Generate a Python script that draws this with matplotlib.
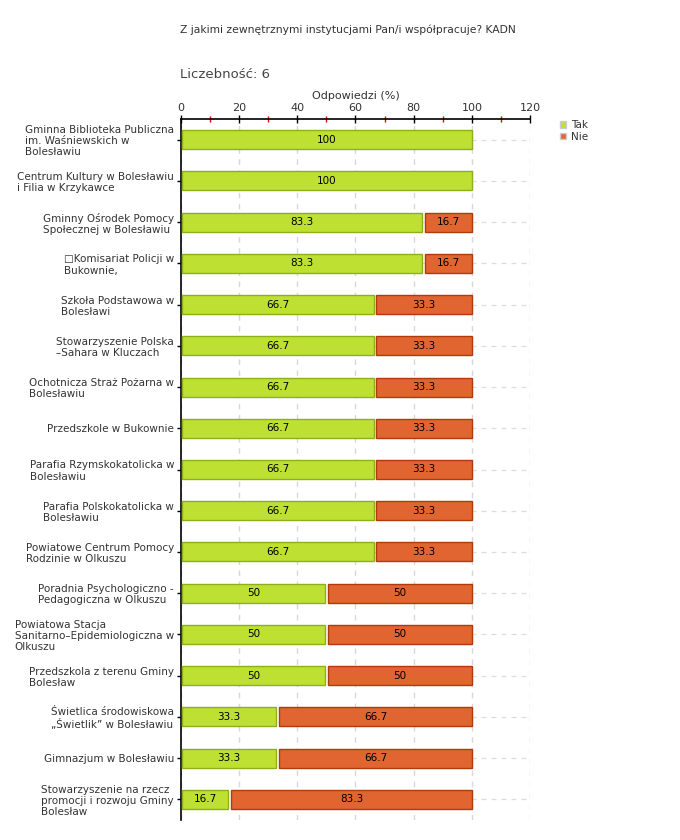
import matplotlib
matplotlib.use("Agg")
import matplotlib.pyplot as plt
from matplotlib.ticker import MultipleLocator
from matplotlib.patches import Patch

categories = [
    "Gminna Biblioteka Publiczna\nim. Waśniewskich w\nBolesławiu",
    "Centrum Kultury w Bolesławiu\ni Filia w Krzykawce",
    "Gminny Ośrodek Pomocy\nSpołecznej w Bolesławiu",
    "□Komisariat Policji w\nBukownie,",
    "Szkoła Podstawowa w\nBolesławi",
    "Stowarzyszenie Polska\n–Sahara w Kluczach",
    "Ochotnicza Straż Pożarna w\nBolesławiu",
    "Przedszkole w Bukownie",
    "Parafia Rzymskokatolicka w\nBolesławiu",
    "Parafia Polskokatolicka w\nBolesławiu",
    "Powiatowe Centrum Pomocy\nRodzinie w Olkuszu",
    "Poradnia Psychologiczno -\nPedagogiczna w Olkuszu",
    "Powiatowa Stacja\nSanitarno–Epidemiologiczna w\nOlkuszu",
    "Przedszkola z terenu Gminy\nBolesław",
    "Świetlica środowiskowa\n„Świetlik” w Bolesławiu",
    "Gimnazjum w Bolesławiu",
    "Stowarzyszenie na rzecz\npromocji i rozwoju Gminy\nBolesław",
]
tak = [100, 100, 83.3, 83.3, 66.7, 66.7, 66.7, 66.7, 66.7, 66.7, 66.7, 50, 50, 50, 33.3, 33.3, 16.7]
nie = [0, 0, 16.7, 16.7, 33.3, 33.3, 33.3, 33.3, 33.3, 33.3, 33.3, 50, 50, 50, 66.7, 66.7, 83.3]
series_names = ["Tak", "Nie"]

title = "Z jakimi zewnętrznymi instytucjami Pan/i współpracuje? KADN"
count_text = "Liczebność: 6"
xlabel = "Odpowiedzi (%)"

TAK_FC, TAK_EC = "#bee032", "#8cb01a"
NIE_FC, NIE_EC = "#e16530", "#b03a0c"

fig = plt.figure(figsize=(6.8, 8.4), dpi=100)
ax = fig.add_axes([181/680, 1 - 820/840, (530-181)/680, (820-119)/840])

n = len(categories)
ys = list(range(n))
gap = 1.0
bh = 0.46

# horizontal dashed grid lines at category centres
for y in ys:
    ax.axhline(y, color="#dddddd", lw=0.9, ls=(0, (4, 4)), zorder=0)

for y, t, nv in zip(ys, tak, nie):
    if t > 0:
        w = t - (gap / 2 if nv > 0 else 0) - 0.4
        ax.barh(y, w, left=0.4, height=bh, color=TAK_FC, edgecolor=TAK_EC, lw=1, zorder=3)
        ax.text(0.4 + w / 2, y, f"{t:g}", ha="center", va="center", fontsize=7.5, color="black", zorder=4)
    if nv > 0:
        left = t + gap / 2
        w = nv - gap / 2
        ax.barh(y, w, left=left, height=bh, color=NIE_FC, edgecolor=NIE_EC, lw=1, zorder=3)
        ax.text(left + w / 2, y, f"{nv:g}", ha="center", va="center", fontsize=7.5, color="black", zorder=4)

ax.set_xlim(0, 120)
ax.set_ylim(n - 0.5, -0.5)
ax.xaxis.set_major_locator(MultipleLocator(20))
ax.xaxis.set_minor_locator(MultipleLocator(10))
ax.xaxis.tick_top()
ax.xaxis.set_label_position("top")
ax.set_xlabel(xlabel, fontsize=8, color="#333333", labelpad=3)
ax.tick_params(axis="x", which="major", direction="inout", length=6, width=1, color="black",
               labelsize=8, labelcolor="#333333", pad=1)
ax.tick_params(axis="x", which="minor", direction="inout", length=5, width=1, color="#e00000")
ax.grid(axis="x", which="major", color="#d8d8d8", lw=1.0, ls=(0, (4, 4)), zorder=0)

ax.set_yticks(ys)
ax.set_yticklabels(categories, fontsize=7.5, color="#333333", multialignment="left", linespacing=1.15)
ax.tick_params(axis="y", direction="out", length=3, width=1, color="black", pad=2)

for s in ["right", "bottom"]:
    ax.spines[s].set_visible(False)
ax.spines["top"].set_linewidth(1.2)
ax.spines["left"].set_linewidth(1.2)

fig.text(180/680, 1 - 30/840, title, fontsize=7.75, color="#333333", va="center", ha="left")
fig.text(180/680, 1 - 75/840, count_text, fontsize=9.5, color="#444444", va="center", ha="left")

handles = [Patch(facecolor=TAK_FC, edgecolor="#cccccc"), Patch(facecolor=NIE_FC, edgecolor="#cccccc")]
fig.legend(handles, series_names, loc="upper left", bbox_to_anchor=(555/680, 1 - 115/840),
           frameon=False, fontsize=7.5, handlelength=0.6, handleheight=0.6, handletextpad=0.4,
           labelspacing=0.15, borderpad=0, labelcolor="#333333")

fig.savefig("out.png", dpi=100, facecolor="white")
